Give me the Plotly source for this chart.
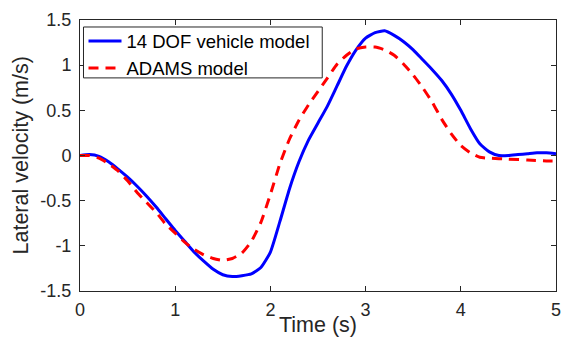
import plotly.graph_objects as go

time_dof = [0.0, 0.1, 0.2, 0.3, 0.4, 0.5, 0.6, 0.7, 0.8, 0.9, 1.0, 1.1, 1.2, 1.3, 1.4, 1.5, 1.6, 1.7, 1.8, 1.9,
            2.0, 2.1, 2.2, 2.3, 2.4, 2.5, 2.6, 2.7, 2.8, 2.9, 3.0, 3.1, 3.2, 3.3, 3.4, 3.5, 3.6, 3.7, 3.8, 3.9,
            4.0, 4.1, 4.2, 4.3, 4.4, 4.5, 4.6, 4.7, 4.8, 4.9, 5.0]
vel_dof = [0.0, 0.01, -0.01, -0.07, -0.15, -0.24, -0.34, -0.45, -0.57, -0.70, -0.83, -0.95, -1.07, -1.17, -1.26,
           -1.32, -1.34, -1.33, -1.31, -1.24, -1.07, -0.73, -0.37, -0.07, 0.17, 0.36, 0.55, 0.77, 0.99, 1.17,
           1.30, 1.36, 1.38, 1.33, 1.26, 1.17, 1.06, 0.95, 0.83, 0.68, 0.50, 0.30, 0.13, 0.04, 0.00, 0.00,
           0.01, 0.02, 0.03, 0.03, 0.02]

time_adams = [0.0, 0.1, 0.2, 0.3, 0.4, 0.5, 0.6, 0.7, 0.8, 0.9, 1.0, 1.1, 1.2, 1.3, 1.4, 1.5, 1.6, 1.7, 1.8, 1.9,
              2.0, 2.1, 2.2, 2.3, 2.4, 2.5, 2.6, 2.7, 2.8, 2.9, 3.0, 3.1, 3.2, 3.3, 3.4, 3.5, 3.6, 3.7, 3.8, 3.9,
              4.0, 4.1, 4.2, 4.3, 4.5, 4.7, 4.9, 5.0]
vel_adams = [0.0, 0.0, -0.03, -0.09, -0.17, -0.28, -0.41, -0.52, -0.63, -0.76, -0.86, -0.96, -1.04, -1.10, -1.14,
             -1.16, -1.14, -1.08, -0.95, -0.74, -0.43, -0.09, 0.18, 0.39, 0.56, 0.71, 0.86, 1.01, 1.11, 1.18,
             1.20, 1.20, 1.17, 1.11, 1.01, 0.89, 0.75, 0.59, 0.40, 0.24, 0.11, 0.03, -0.02, -0.03, -0.04,
             -0.05, -0.06, -0.06]

x_ticks = [0, 1, 2, 3, 4, 5]
y_ticks = [-1.5, -1, -0.5, 0, 0.5, 1, 1.5]
y_tick_text = ["-1.5", "-1", "-0.5", "0", "0.5", "1", "1.5"]

FONT = "Liberation Sans, Arial, sans-serif"
AX = "#262626"

W, H = 562, 338
ML, MR, MT, MB = 79.5, 6, 20, 46.5
PW, PH = W - ML - MR, H - MT - MB


def px_x(p):
    return (p - ML) / PW


def px_y(p):
    return 1 - (p - MT) / PH


fig = go.Figure()
fig.add_trace(go.Scatter(x=time_dof, y=vel_dof, mode="lines", name="14 DOF vehicle model",
                         line=dict(color="#0000ff", width=3, shape="spline", smoothing=0.5)))
fig.add_trace(go.Scatter(x=time_adams, y=vel_adams, mode="lines", name="ADAMS model",
                         line=dict(color="#ff0000", width=3, dash="10px,7px", shape="spline", smoothing=0.5)))

axis_common = dict(showgrid=False, zeroline=False, showline=True, linecolor=AX, linewidth=1,
                   mirror="ticks", ticks="inside", ticklen=5, tickcolor=AX, tickwidth=1, automargin=False,
                   tickfont=dict(family=FONT, size=18, color=AX))

fig.update_layout(
    width=W, height=H,
    margin=dict(l=ML, r=MR, t=MT, b=MB, autoexpand=False),
    paper_bgcolor="white", plot_bgcolor="white",
    showlegend=True,
    legend=dict(x=px_x(83), y=px_y(22.5), xanchor="left", yanchor="top",
                bgcolor="rgba(0,0,0,0)", borderwidth=0,
                font=dict(family=FONT, size=18.5, color="#000000"),
                itemwidth=33, tracegroupgap=0),
    shapes=[dict(type="rect", xref="paper", yref="paper", layer="above",
                 x0=px_x(83), x1=px_x(322), y0=px_y(78), y1=px_y(27),
                 line=dict(color=AX, width=1), fillcolor="white")],
    xaxis=dict(range=[0, 5], tickvals=x_ticks, ticklabelstandoff=2, **axis_common),
    yaxis=dict(range=[-1.5, 1.5], tickvals=y_ticks, ticktext=y_tick_text, ticklabelstandoff=4, **axis_common),
    annotations=[
        dict(text="Time (s)", xref="paper", yref="paper", x=0.5, y=-0.125, xanchor="center", yanchor="middle",
             showarrow=False, font=dict(family=FONT, size=21.5, color=AX)),
        dict(text="Lateral velocity (m/s)", xref="paper", yref="paper", x=-0.124, y=0.5,
             xanchor="center", yanchor="middle", textangle=-90,
             showarrow=False, font=dict(family=FONT, size=21.5, color=AX)),
    ],
)

fig.write_html("out.html")
